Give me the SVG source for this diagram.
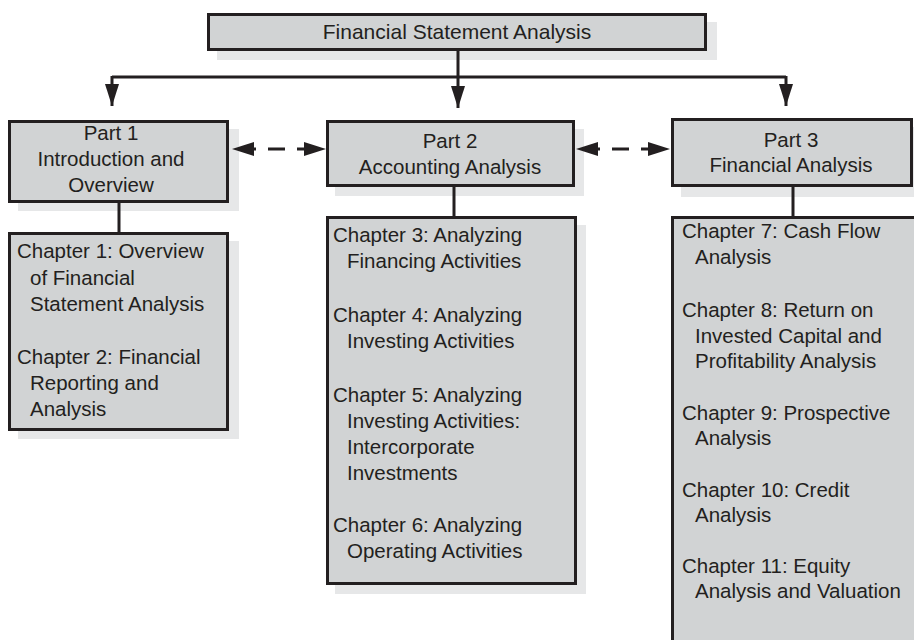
<svg xmlns="http://www.w3.org/2000/svg" width="914" height="640" viewBox="0 0 914 640">
<style>
.box{fill:#d1d3d4;stroke:#231f20;stroke-width:3}
.shadow{fill:#e6e7e8}
.t{font-family:"Liberation Sans",Arial,sans-serif;font-size:20.5px;fill:#231f20}
.c{text-anchor:middle}
.ln{stroke:#231f20;stroke-width:3;fill:none}
.dash{stroke:#231f20;stroke-width:3;fill:none;stroke-dasharray:17 12;stroke-dashoffset:22}
</style>
<defs>
<marker id="ah" markerUnits="userSpaceOnUse" markerWidth="24" markerHeight="16" refX="22" refY="7" orient="auto-start-reverse" viewBox="0 0 24 16">
<path d="M0,0 L22,7 L0,14 Z" fill="#231f20"/>
</marker>
</defs>
<rect width="914" height="640" fill="#ffffff"/>

<g id="title">
<rect class="shadow" x="217" y="22" width="500" height="38"/>
<rect class="box" x="208.5" y="14.5" width="497" height="35"/>
<text class="t c" x="457" y="39" style="font-size:21px">Financial Statement Analysis</text>
</g>

<g id="part1">
<rect class="shadow" x="18" y="129" width="221" height="82"/>
<rect class="box" x="9.5" y="121.5" width="218" height="80"/>
<text class="t c" y="140"><tspan x="111">Part 1</tspan><tspan x="111" y="166">Introduction and</tspan><tspan x="111" y="192">Overview</tspan></text>
</g>

<g id="part1-chapters">
<rect class="shadow" x="18" y="241" width="221" height="198"/>
<rect class="box" x="9.5" y="233.5" width="218" height="196"/>
<text class="t"><tspan x="17" y="258">Chapter 1: Overview</tspan><tspan x="30" y="285">of Financial</tspan><tspan x="30" y="311">Statement Analysis</tspan><tspan x="17" y="364">Chapter 2: Financial</tspan><tspan x="30" y="390">Reporting and</tspan><tspan x="30" y="416">Analysis</tspan></text>
</g>

<g id="part2">
<rect class="shadow" x="335" y="129" width="249" height="67"/>
<rect class="box" x="327.5" y="121.5" width="246" height="64"/>
<text class="t c" y="148"><tspan x="450">Part 2</tspan><tspan x="450" y="174">Accounting Analysis</tspan></text>
</g>

<g id="part2-chapters">
<rect class="shadow" x="335" y="225" width="251" height="369"/>
<rect class="box" x="327.5" y="217.5" width="248" height="366"/>
<text class="t"><tspan x="333" y="242">Chapter 3: Analyzing</tspan><tspan x="347" y="268">Financing Activities</tspan><tspan x="333" y="322">Chapter 4: Analyzing</tspan><tspan x="347" y="348">Investing Activities</tspan><tspan x="333" y="402">Chapter 5: Analyzing</tspan><tspan x="347" y="428">Investing Activities:</tspan><tspan x="347" y="454">Intercorporate</tspan><tspan x="347" y="480">Investments</tspan><tspan x="333" y="532">Chapter 6: Analyzing</tspan><tspan x="347" y="558">Operating Activities</tspan></text>
</g>

<g id="part3">
<rect class="shadow" x="681" y="127" width="245" height="70"/>
<rect class="box" x="672.5" y="119.5" width="239" height="66"/>
<text class="t c" y="147"><tspan x="791">Part 3</tspan><tspan x="791" y="172">Financial Analysis</tspan></text>
</g>

<g id="part3-chapters">
<rect class="shadow" x="681" y="225" width="245" height="430"/>
<rect class="box" x="672.5" y="217.5" width="260" height="440"/>
<text class="t"><tspan x="682" y="238">Chapter 7: Cash Flow</tspan><tspan x="695" y="264">Analysis</tspan><tspan x="682" y="317">Chapter 8: Return on</tspan><tspan x="695" y="343">Invested Capital and</tspan><tspan x="695" y="368">Profitability Analysis</tspan><tspan x="682" y="420">Chapter 9: Prospective</tspan><tspan x="695" y="445">Analysis</tspan><tspan x="682" y="497">Chapter 10: Credit</tspan><tspan x="695" y="522">Analysis</tspan><tspan x="682" y="573">Chapter 11: Equity</tspan><tspan x="695" y="598">Analysis and Valuation</tspan></text>
</g>

<g id="connectors">
<line class="ln" x1="458" y1="50" x2="458" y2="77"/>
<line class="ln" x1="112" y1="77" x2="786" y2="77"/>
<line class="ln" x1="112" y1="76" x2="112" y2="106" marker-end="url(#ah)"/>
<line class="ln" x1="458" y1="76" x2="458" y2="108" marker-end="url(#ah)"/>
<line class="ln" x1="786" y1="76" x2="786" y2="106" marker-end="url(#ah)"/>
<line class="ln" x1="119" y1="203" x2="119" y2="232"/>
<line class="ln" x1="454" y1="187" x2="454" y2="216"/>
<line class="ln" x1="793" y1="187" x2="793" y2="216"/>
<line class="dash" x1="232" y1="149" x2="326" y2="149" marker-start="url(#ah)" marker-end="url(#ah)"/>
<line class="dash" x1="576" y1="149" x2="670" y2="149" marker-start="url(#ah)" marker-end="url(#ah)"/>
</g>
</svg>
